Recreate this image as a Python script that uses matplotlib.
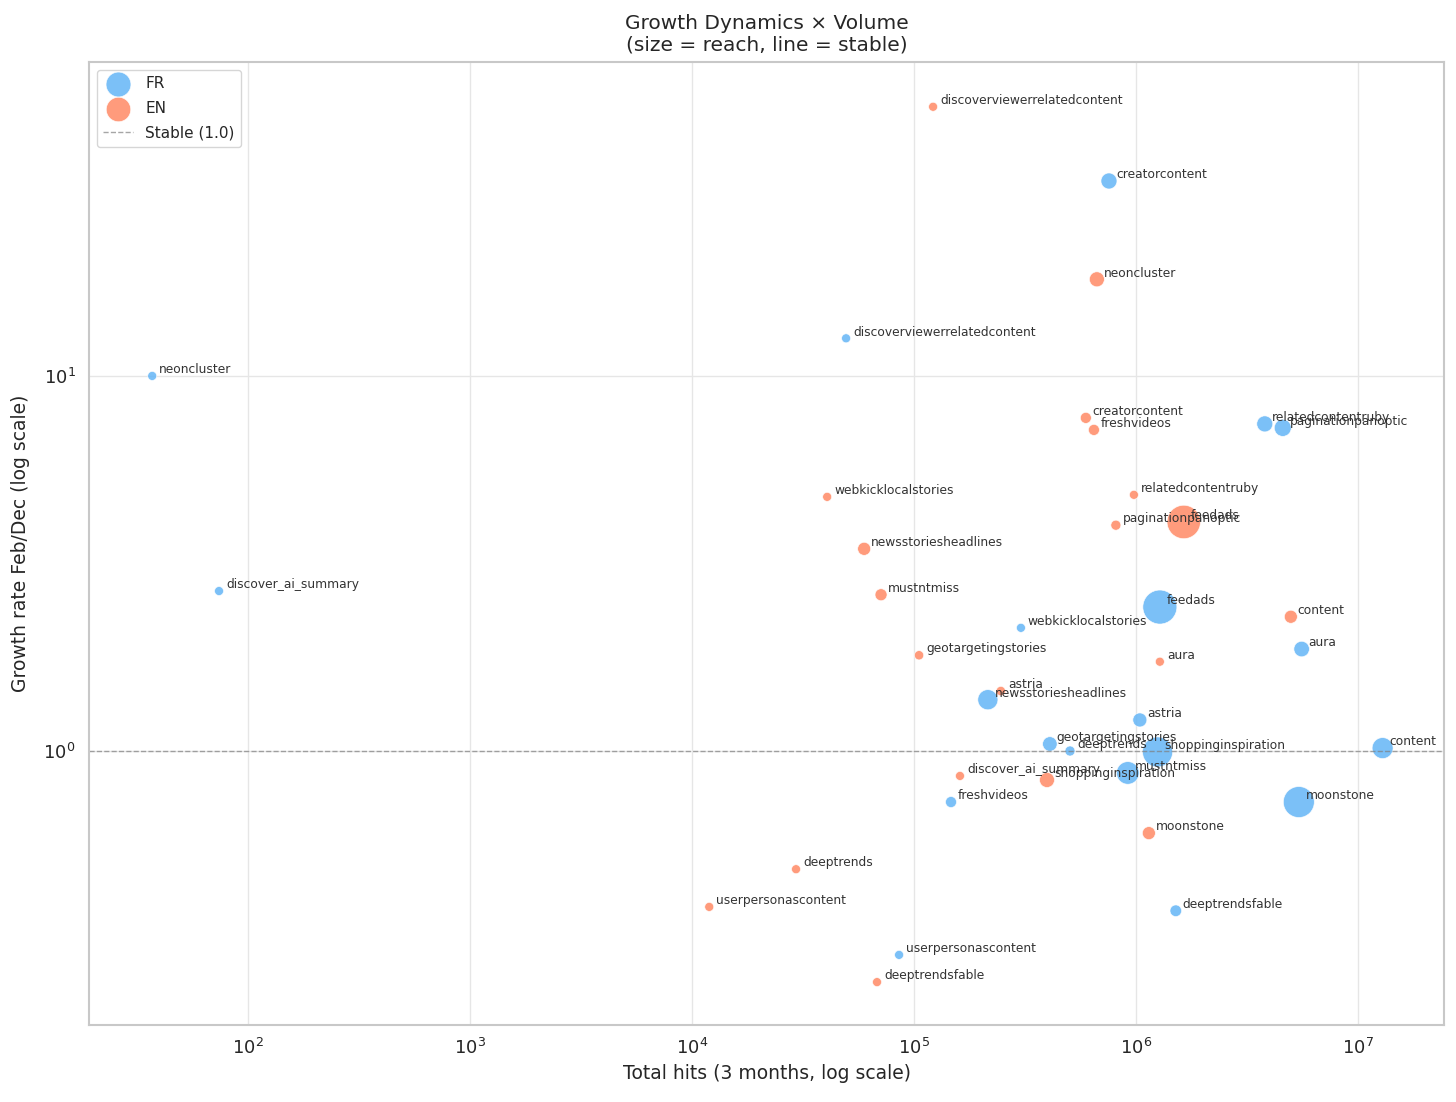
import matplotlib
matplotlib.use("Agg")
import matplotlib.pyplot as plt
import seaborn as sns

# FR data
fr_names = ["neoncluster", "discover_ai_summary", "discoverviewerrelatedcontent", "creatorcontent",
            "relatedcontentruby", "paginationpanoptic", "feedads", "webkicklocalstories", "aura",
            "newsstoriesheadlines", "astria", "geotargetingstories", "deeptrends", "shoppinginspiration",
            "mustntmiss", "content", "moonstone", "freshvideos", "deeptrendsfable", "userpersonascontent"]
fr_hits = [37, 74, 49400, 755000, 3.8e6, 4.58e6, 1.28e6, 303000, 5.57e6,
           215000, 1.04e6, 409000, 504000, 1.25e6, 918000, 1.29e7, 5.41e6, 146700, 1.51e6, 85600]
fr_growth = [10.0, 2.67, 12.6, 33.1, 7.45, 7.27, 2.42, 2.13, 1.87,
             1.37, 1.21, 1.044, 1.0, 0.994, 0.874, 1.018, 0.731, 0.731, 0.375, 0.286]
fr_reach = [42, 42, 42, 133, 133, 150, 600, 42, 125,
            210, 102, 110, 52, 470, 265, 228, 498, 63, 70, 42]

# EN data
en_names = ["discoverviewerrelatedcontent", "neoncluster", "creatorcontent", "freshvideos",
            "webkicklocalstories", "relatedcontentruby", "paginationpanoptic", "feedads",
            "newsstoriesheadlines", "mustntmiss", "content", "geotargetingstories", "aura", "astria",
            "discover_ai_summary", "shoppinginspiration", "moonstone", "deeptrends",
            "userpersonascontent", "deeptrendsfable"]
en_hits = [121800, 666000, 594000, 646000, 40600, 978000, 811000, 1.64e6,
           59600, 71000, 4.98e6, 105300, 1.28e6, 246000,
           161000, 397000, 1.142e6, 29400, 11950, 68100]
en_growth = [52.2, 18.1, 7.73, 7.18, 4.76, 4.82, 4.0, 4.08,
             3.46, 2.61, 2.28, 1.80, 1.73, 1.445,
             0.858, 0.837, 0.604, 0.484, 0.384, 0.242]
en_reach = [42, 117, 63, 63, 42, 42, 52, 580,
            88, 75, 88, 45, 42, 45,
            42, 117, 88, 42, 42, 42]

sns.set_theme(style="whitegrid")

fig, ax = plt.subplots(figsize=(14.56, 11.02), dpi=100)
fig.subplots_adjust(left=0.0611, right=0.9918, top=0.9437, bottom=0.0699)

ax.scatter(fr_hits, fr_growth, s=fr_reach, color="#64B5F6", alpha=0.85,
           edgecolor="white", linewidth=0.5, label="FR")
ax.scatter(en_hits, en_growth, s=en_reach, color="#FF8A65", alpha=0.85,
           edgecolor="white", linewidth=0.5, label="EN")

for name, x, y in zip(fr_names, fr_hits, fr_growth):
    ax.annotate(name, (x, y), xytext=(5, 2), textcoords="offset points",
                fontsize=8.8, color="#333333")
for name, x, y in zip(en_names, en_hits, en_growth):
    ax.annotate(name, (x, y), xytext=(5, 2), textcoords="offset points",
                fontsize=8.8, color="#333333")

ax.axhline(1.0, color="gray", linestyle="--", linewidth=1, alpha=0.7, label="Stable (1.0)")

ax.set_xscale("log")
ax.set_yscale("log")
ax.set_xlim(19.2, 2.44e7)
ax.set_ylim(0.186, 68.7)
ax.grid(True, color="#e6e6e6", linewidth=1)
ax.tick_params(labelsize=13)
for sp in ax.spines.values():
    sp.set_color("#c8c8c8")
    sp.set_linewidth(1.5)

ax.set_xlabel("Total hits (3 months, log scale)", fontsize=13.5)
ax.set_ylabel("Growth rate Feb/Dec (log scale)", fontsize=13.5, labelpad=10)
ax.set_title("Growth Dynamics \u00d7 Volume\n(size = reach, line = stable)", fontsize=14.5, pad=8)
ax.legend(loc="upper left", fontsize=11, labelspacing=0.65)

fig.savefig("out.png", dpi=100)
